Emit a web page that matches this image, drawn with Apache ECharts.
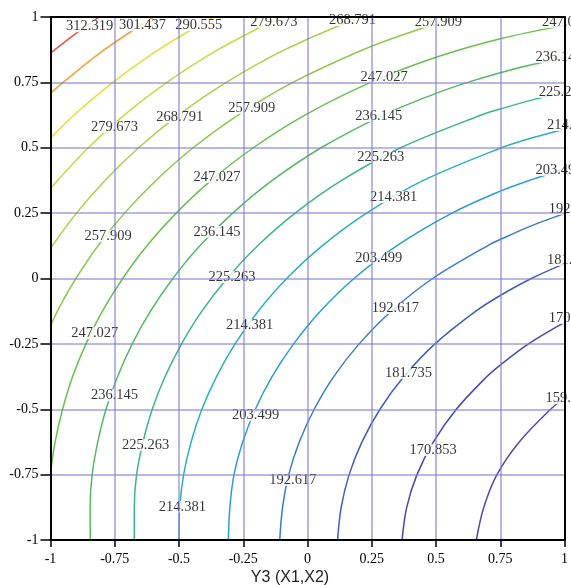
<!DOCTYPE html>
<html><head><meta charset="utf-8">
<script src="https://cdn.jsdelivr.net/npm/echarts@6/dist/echarts.min.js"></script>
<style>html,body{margin:0;padding:0;background:#fff;}#c{width:571px;height:585px;}</style>
</head><body><div id="c"></div>
<script>
const tickLabelsX = ['-1','-0.75','-0.5','-0.25','0','0.25','0.5','0.75','1'];
const tickLabelsY = ['-1','-0.75','-0.5','-0.25','0','0.25','0.5','0.75','1'];
const levels = ['159.971','170.853','181.735','192.617','203.499','214.381','225.263','236.145','247.027','257.909','268.791','279.673','290.555','301.437','312.319'];
const lineColors = ['#5e46a2','#4648aa','#3e5eba','#387cca','#2c9cd2','#2cb0bc','#3cb48c','#54ba64','#6ac04e','#8cc84e','#a8d04a','#c8d845','#e8dc3a','#f4a03c','#ec5238'];

const contour159 = [[0.657,-1],[0.686,-0.875],[0.737,-0.75],[0.824,-0.625],[0.946,-0.5],[1,-0.456]];
const contour170 = [[0.368,-1],[0.386,-0.875],[0.426,-0.75],[0.49,-0.625],[0.579,-0.5],[0.698,-0.375],[0.75,-0.331],[0.86,-0.25],[1,-0.168]];
const contour181 = [[0.117,-1],[0.131,-0.875],[0.162,-0.75],[0.212,-0.625],[0.282,-0.5],[0.375,-0.375],[0.496,-0.25],[0.655,-0.125],[0.75,-0.065],[0.871,0],[1,0.057]];
const contour192 = [[-0.108,-1],[-0.097,-0.875],[-0.073,-0.75],[-0.032,-0.625],[0.026,-0.5],[0.102,-0.375],[0.201,-0.25],[0.326,-0.125],[0.487,0],[0.7,0.125],[0.75,0.149],[0.875,0.203],[1,0.248]];
const contour203 = [[-0.308,-1],[-0.302,-0.875],[-0.286,-0.75],[-0.252,-0.625],[-0.203,-0.5],[-0.138,-0.375],[-0.054,-0.25],[0.05,-0.125],[0.181,0],[0.347,0.125],[0.562,0.25],[0.75,0.334],[0.875,0.379],[1,0.418]];
const contour214 = [[-0.5,-1],[-0.497,-0.875],[-0.482,-0.75],[-0.453,-0.625],[-0.411,-0.5],[-0.354,-0.375],[-0.282,-0.25],[-0.192,-0.125],[-0.081,0],[0.057,0.125],[0.23,0.25],[0.451,0.375],[0.755,0.5],[0.875,0.538],[1,0.571]];
const contour225 = [[-0.674,-1],[-0.674,-0.875],[-0.665,-0.75],[-0.64,-0.625],[-0.604,-0.5],[-0.554,-0.375],[-0.49,-0.25],[-0.411,-0.125],[-0.313,0],[-0.194,0.125],[-0.048,0.25],[0.133,0.375],[0.363,0.5],[0.676,0.625],[0.75,0.648],[0.875,0.683],[1,0.712]];
const contour236 = [[-0.845,-1],[-0.846,-0.875],[-0.838,-0.75],[-0.816,-0.625],[-0.784,-0.5],[-0.739,-0.375],[-0.682,-0.25],[-0.611,-0.125],[-0.524,0],[-0.419,0.125],[-0.291,0.25],[-0.137,0.375],[0.053,0.5],[0.295,0.625],[0.5,0.708],[0.623,0.75],[0.75,0.787],[0.875,0.818],[1,0.844]];
const contour247 = [[-1,-0.744],[-0.982,-0.625],[-0.953,-0.5],[-0.914,-0.375],[-0.862,-0.25],[-0.798,-0.125],[-0.719,0],[-0.625,0.125],[-0.511,0.25],[-0.375,0.375],[-0.211,0.5],[-0.01,0.625],[0.246,0.75],[0.5,0.846],[0.75,0.917],[1,0.968]];
const contour257 = [[-1,-0.18],[-0.96,-0.1],[-0.901,0],[-0.815,0.125],[-0.712,0.25],[-0.59,0.375],[-0.445,0.5],[-0.27,0.625],[-0.057,0.75],[0.216,0.875],[0.4,0.942],[0.593,1]];
const contour268 = [[-1,0.115],[-0.899,0.25],[-0.788,0.375],[-0.657,0.5],[-0.502,0.625],[-0.316,0.75],[-0.088,0.875],[0.205,1]];
const contour279 = [[-1,0.344],[-0.973,0.375],[-0.853,0.5],[-0.713,0.625],[-0.547,0.75],[-0.348,0.875],[-0.103,1]];
const contour290 = [[-1,0.537],[-0.908,0.625],[-0.757,0.75],[-0.579,0.875],[-0.366,1]];
const contour301 = [[-1,0.708],[-0.951,0.75],[-0.79,0.875],[-0.599,1]];
const contour312 = [[-1,0.862],[-0.911,0.93],[-0.811,1]];

const contours = [contour159,contour170,contour181,contour192,contour203,contour214,contour225,contour236,contour247,contour257,contour268,contour279,contour290,contour301,contour312];

// contour labels centred on the line: [x, y, text]
const midLabels = [
  [-0.751,0.579,'279.673'],[-0.497,0.618,'268.791'],[-0.217,0.652,'257.909'],[-0.776,0.163,'257.909'],
  [0.298,0.771,'247.027'],[-0.352,0.388,'247.027'],[-0.828,-0.208,'247.027'],
  [0.277,0.621,'236.145'],[-0.352,0.178,'236.145'],[-0.751,-0.446,'236.145'],
  [0.285,0.465,'225.263'],[-0.294,0.006,'225.263'],[-0.630,-0.637,'225.263'],
  [0.335,0.312,'214.381'],[-0.225,-0.178,'214.381'],[-0.487,-0.874,'214.381'],
  [0.277,0.077,'203.499'],[-0.202,-0.522,'203.499'],
  [0.342,-0.113,'192.617'],[-0.057,-0.771,'192.617'],
  [0.393,-0.361,'181.735'],[0.489,-0.656,'170.853'],
  [-0.848,0.966,'312.319'],[-0.642,0.969,'301.437'],[-0.423,0.969,'290.555'],
  [-0.131,0.981,'279.673'],[0.175,0.989,'268.791'],[0.509,0.981,'257.909']
];
// labels starting at a point near the right edge: [x, y, text]
const edgeLabels = [
  [0.907,0.981,'247.027'],[0.881,0.847,'236.145'],[0.894,0.713,'225.263'],[0.926,0.587,'214.381'],
  [0.881,0.415,'203.499'],[0.933,0.266,'192.617'],[0.926,0.071,'181.735'],[0.933,-0.151,'170.853'],[0.920,-0.457,'159.971']
];

const serif = "'Times New Roman','Liberation Serif',serif";
const chart = echarts.init(document.getElementById('c'), null, {renderer:'canvas'});

const series = [];
contours.forEach((pts, i) => {
  series.push({
    type:'line', name: levels[i], data: pts, smooth: 0.35, showSymbol:false, symbol:'none',
    lineStyle:{color: lineColors[i], width:1.5}, z:1, silent:true, animation:false
  });
});
function labelSeries(data, isBox, isEdge) {
  return {
    type:'scatter', data: data, symbolSize:1, itemStyle:{color:'rgba(0,0,0,0)'},
    clip:false, silent:true, animation:false, z: isBox ? 2 : 3,
    label:{
      show:true, position: isEdge ? 'right' : 'inside', distance:0,
      formatter: p => p.data[2],
      color: isBox ? 'rgba(0,0,0,0)' : '#000',
      backgroundColor: isBox ? '#fff' : 'transparent',
      fontSize:14.5, fontFamily: serif, lineHeight:12, padding:[0,1],
      align: isEdge ? 'left' : 'center', verticalAlign:'middle'
    }
  };
}
series.push(labelSeries(midLabels, true, false));
series.push(labelSeries(edgeLabels, true, true));
series.push(labelSeries(midLabels, false, false));
series.push(labelSeries(edgeLabels, false, true));

const gridColor = 'rgba(125,125,205,0.55)';
function mainAxis(pos, labels, tickLen, margin) {
  return {
    type:'value', min:-1, max:1, interval:0.25, position: pos, z:4,
    axisLine:{show:true, onZero:false, lineStyle:{color:'#000', width:2}},
    axisTick:{show:true, length: tickLen, lineStyle:{color:'#000', width:1.5}},
    axisLabel:{show:true, margin: margin, color:'#000', fontSize:14, fontFamily: serif,
      showMinLabel:true, showMaxLabel:true,
      formatter: v => labels[Math.round((v + 1) / 0.25)]},
    splitLine:{show:true, lineStyle:{color: gridColor, width:2}}
  };
}
function borderAxis(pos) {
  return {
    type:'value', min:-1, max:1, position: pos, z:4,
    axisLine:{show:true, onZero:false, lineStyle:{color:'#000', width:2}},
    axisTick:{show:false}, axisLabel:{show:false}, splitLine:{show:false}
  };
}

chart.setOption({
  animation:false,
  backgroundColor:'#fff',
  grid:{left:50.5, top:17, width:518.5, height:523, containLabel:false},
  xAxis:[mainAxis('bottom', tickLabelsX, 7, 12), borderAxis('top')],
  yAxis:[mainAxis('left', tickLabelsY, 10, 12), borderAxis('right')],
  graphic:[{type:'text', x:290, y:578, silent:true,
    style:{text:'Y3 (X1,X2)', fill:'#222', fontSize:16, fontFamily:"'Liberation Sans',Arial,sans-serif", align:'center', verticalAlign:'middle'}}],
  series: series
});
</script></body></html>
